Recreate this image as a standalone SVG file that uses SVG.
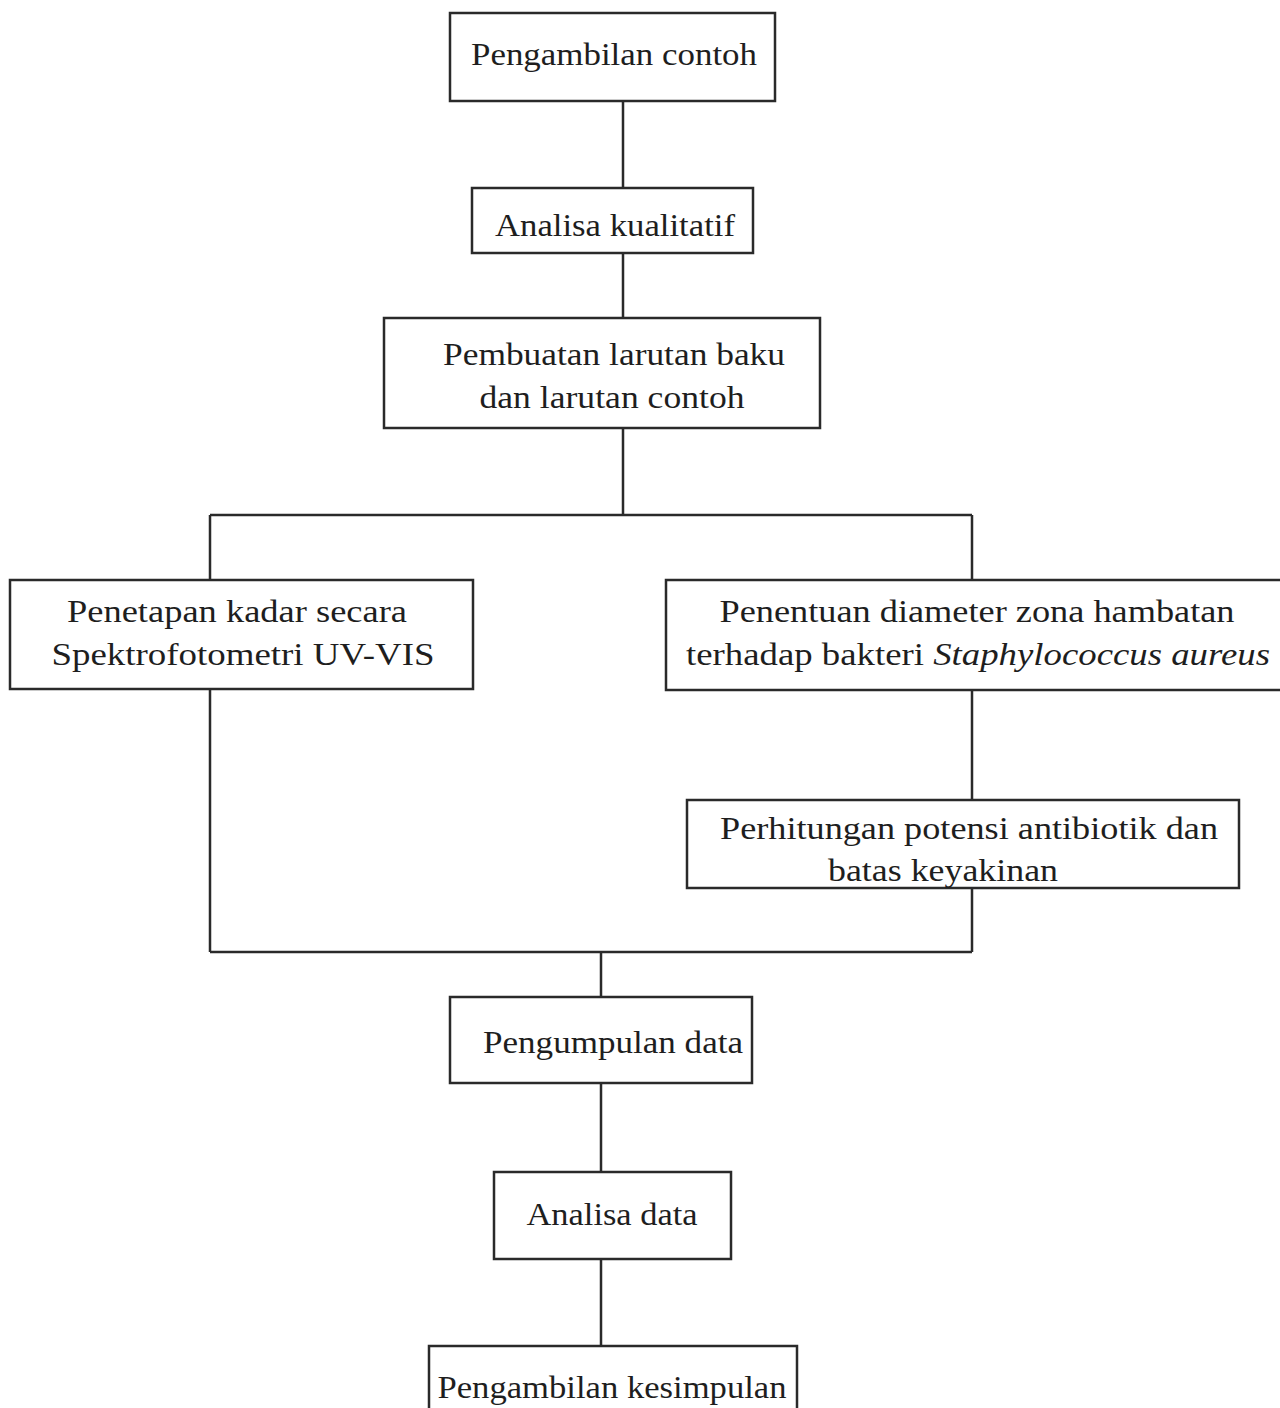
<svg xmlns="http://www.w3.org/2000/svg" width="1280" height="1408" viewBox="0 0 1280 1408">
<style>
.box{fill:#fff;stroke:#2a2a2a;stroke-width:2.5}
.ln{fill:none;stroke:#2a2a2a;stroke-width:2.5}
text{font-family:"Liberation Serif","Times New Roman",serif;font-size:32px;fill:#1e1e1e;text-anchor:middle}
.it{font-style:italic}
</style>
<rect width="1280" height="1408" fill="#fff"/>
<g id="connectors">
<path class="ln" d="M623 101V188M623 253V318M623 428V515M210 515H972M210 515V580M972 515V580M972 690V800M972 888V952M210 689V952M210 952H972M601 952V997M601 1083V1172M601 1259V1346"/>
</g>
<g id="n1"><rect class="box" x="450" y="13" width="325" height="88"/><text x="614" y="65" textLength="286" lengthAdjust="spacingAndGlyphs">Pengambilan contoh</text></g>
<g id="n2"><rect class="box" x="472" y="188" width="281" height="65"/><text x="615" y="236" textLength="240" lengthAdjust="spacingAndGlyphs">Analisa kualitatif</text></g>
<g id="n3"><rect class="box" x="384" y="318" width="436" height="110"/><text x="614" y="365" textLength="342" lengthAdjust="spacingAndGlyphs">Pembuatan larutan baku</text><text x="612" y="408" textLength="265" lengthAdjust="spacingAndGlyphs">dan larutan contoh</text></g>
<g id="n4"><rect class="box" x="10" y="580" width="463" height="109"/><text x="237" y="622" textLength="340" lengthAdjust="spacingAndGlyphs">Penetapan kadar secara</text><text x="243" y="665" textLength="383" lengthAdjust="spacingAndGlyphs">Spektrofotometri UV-VIS</text></g>
<g id="n5"><rect class="box" x="666" y="580" width="620" height="110"/><text x="977" y="622" textLength="515" lengthAdjust="spacingAndGlyphs">Penentuan diameter zona hambatan</text><text x="978" y="665" textLength="584" lengthAdjust="spacingAndGlyphs">terhadap bakteri <tspan class="it">Staphylococcus aureus</tspan></text></g>
<g id="n6"><rect class="box" x="687" y="800" width="552" height="88"/><text x="969" y="839" textLength="498" lengthAdjust="spacingAndGlyphs">Perhitungan potensi antibiotik dan</text><text x="943" y="881" textLength="230" lengthAdjust="spacingAndGlyphs">batas keyakinan</text></g>
<g id="n7"><rect class="box" x="450" y="997" width="302" height="86"/><text x="613" y="1053" textLength="260" lengthAdjust="spacingAndGlyphs">Pengumpulan data</text></g>
<g id="n8"><rect class="box" x="494" y="1172" width="237" height="87"/><text x="612" y="1225" textLength="171" lengthAdjust="spacingAndGlyphs">Analisa data</text></g>
<g id="n9"><rect class="box" x="429" y="1346" width="368" height="80"/><text x="612" y="1398" textLength="349" lengthAdjust="spacingAndGlyphs">Pengambilan kesimpulan</text></g>
</svg>
